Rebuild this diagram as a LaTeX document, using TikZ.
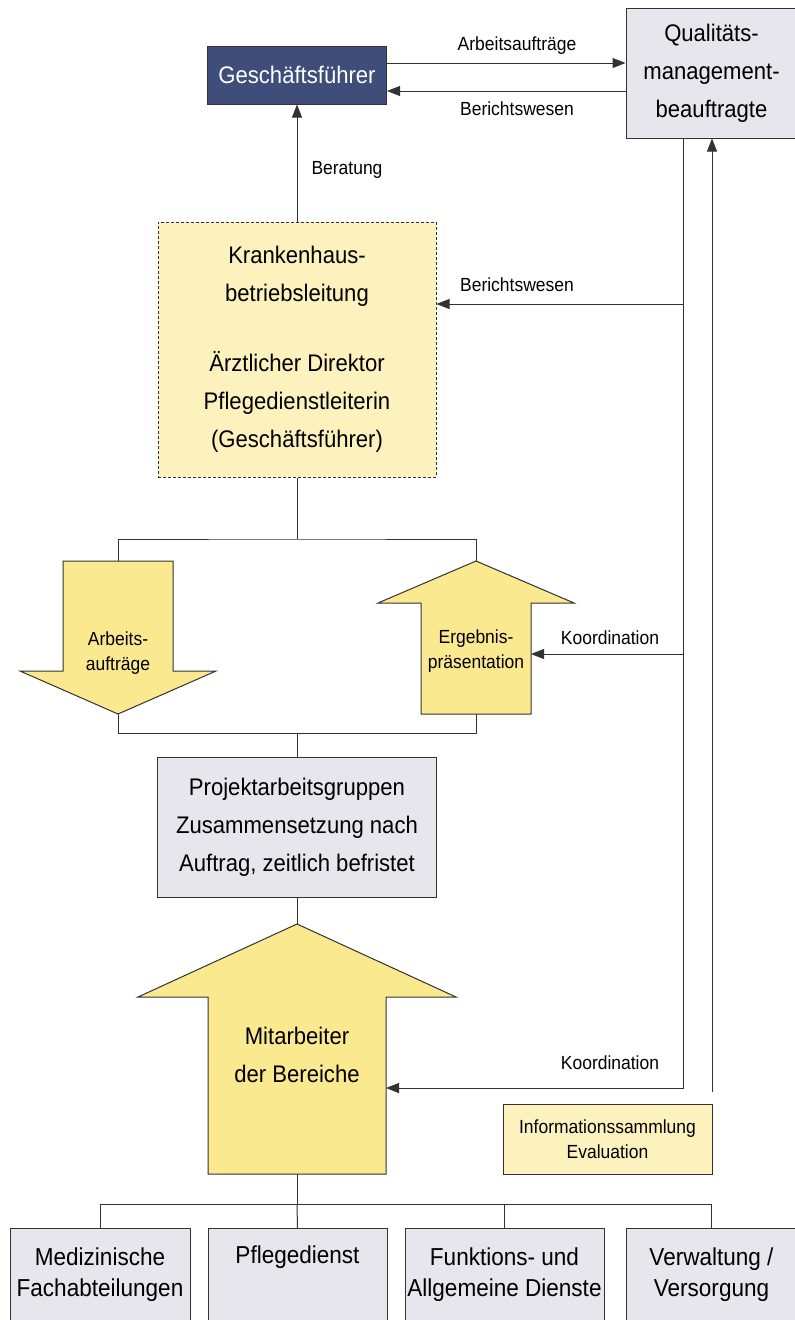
\documentclass[tikz,border=0pt]{standalone}
\usepackage{fontspec}
\setmainfont{Liberation Sans}[FakeStretch=0.92]
\usetikzlibrary{arrows.meta}
\definecolor{navy}{RGB}{62,77,122}
\definecolor{yellowf}{RGB}{251,233,143}
\definecolor{paley}{RGB}{253,242,190}
\definecolor{grayf}{RGB}{230,230,236}
\definecolor{linec}{RGB}{50,50,50}
\newcommand\bigtxt{\fontsize{24}{38}\selectfont}
\newcommand\bottxt{\fontsize{24.5}{31}\selectfont}
\newcommand\smalltxt{\fontsize{19}{25}\selectfont}
\begin{document}
\begin{tikzpicture}[x=1pt,y=-1pt,
  line/.style={draw=linec, line width=1pt},
  arr/.style={line, -{Triangle[length=13pt,width=10pt]}},
  box/.style={draw=linec, line width=1pt, inner sep=0pt, align=center, font=\bigtxt},
  graybox/.style={box, fill=grayf},
  lbl/.style={font=\smalltxt, text=black, inner sep=1pt, align=center},
  btxt/.style={font=\bottxt, inner sep=0pt, align=center, anchor=north},
  bigarrow/.style={draw=linec, line width=1pt, fill=yellowf},
]
\useasboundingbox (0,0) rectangle (795,1320);

% main boxes
\node[box, fill=navy, text=white, minimum width=179, minimum height=58] (gf) at (297,75) {Geschäftsführer};
\node[graybox, minimum width=171, minimum height=130] (qm) at (711.5,73) {Qualitäts-\\management-\\beauftragte};
\node[box, fill=paley, dash pattern=on 3pt off 2pt, minimum width=278, minimum height=255] (kbl) at (297,349.5)
  {Krankenhaus-\\betriebsleitung\\[32pt]Ärztlicher Direktor\\Pflegedienstleiterin\\(Geschäftsführer)};
\node[graybox, minimum width=279, minimum height=140] (pag) at (297,827)
  {Projektarbeitsgruppen\\Zusammensetzung nach\\Auftrag, zeitlich befristet};
\node[box, fill=paley, font=\smalltxt, minimum width=209, minimum height=70] (info) at (607.5,1139)
  {Informationssammlung\\Evaluation};

% block arrows
\draw[bigarrow] (63,561) -- (173,561) -- (173,671) -- (216,671) -- (118,714) -- (20,671) -- (63,671) -- cycle;
\coordinate (aaTop) at (118,561);
\coordinate (aaTip) at (118,714);
\node[lbl] (aa) at (118,653) {Arbeits-\\aufträge};

\draw[bigarrow] (476,561) -- (574,603) -- (531,603) -- (531,714) -- (421,714) -- (421,603) -- (378,603) -- cycle;
\coordinate (epTip) at (476,561);
\coordinate (epBot) at (476,714);
\coordinate (epEdge) at (531,654);
\node[lbl] (ep) at (476,651) {Ergebnis-\\präsentation};

\draw[bigarrow] (297,924) -- (456,997) -- (386,997) -- (386,1174) -- (208,1174) -- (208,997) -- (138,997) -- cycle;
\coordinate (maTip) at (297,924);
\coordinate (maBot) at (297,1174);
\coordinate (maEdge) at (386,1088);
\node[font=\bigtxt, align=center, inner sep=0pt] (ma) at (297,1055) {Mitarbeiter\\der Bereiche};

% bottom boxes
\node[graybox, anchor=north, minimum width=180, minimum height=110] (b1) at (100,1228) {};
\node[graybox, anchor=north, minimum width=179, minimum height=110] (b2) at (297.5,1228) {};
\node[graybox, anchor=north, minimum width=199, minimum height=110] (b3) at (504.5,1228) {};
\node[graybox, anchor=north, minimum width=171, minimum height=110] (b4) at (711.5,1228) {};
\node[btxt] (t1) at ([yshift=-20pt]b1.north) {Medizinische\\Fachabteilungen};
\node[btxt] (t2) at ([yshift=-18pt]b2.north) {Pflegedienst};
\node[btxt] (t3) at ([yshift=-20pt]b3.north) {Funktions- und\\Allgemeine Dienste};
\node[btxt] (t4) at ([yshift=-20pt]b4.north) {Verwaltung /\\Versorgung};

% connectors top
\draw[arr] ([yshift=12pt]gf.east) -- ([yshift=12pt]gf.east -| qm.west);
\draw[arr] ([yshift=-16pt]gf.east -| qm.west) -- ([yshift=-16pt]gf.east);
\node[lbl] (l1) at (517,46) {Arbeitsaufträge};
\node[lbl] (l2) at (517,109) {Berichtswesen};
\draw[arr] (kbl.north) -- (gf.south);
\node[lbl] (l3) at (347,170) {Beratung};

\coordinate (qmA) at ([xshift=-28.5pt]qm.south);
\coordinate (qmB) at ([xshift=0.5pt]qm.south);
\coordinate (kblIn) at ([yshift=45.5pt]kbl.east);
\coordinate (infoUp) at (712,1092);
\draw[arr] (qmA) |- (maEdge);
\draw[arr] (qmA |- kblIn) -- (kblIn);
\draw[arr] (qmA |- epEdge) -- (epEdge);
\draw[arr] (infoUp) -- (qmB);
\node[lbl] (l4) at (517,285) {Berichtswesen};
\node[lbl] (l5) at (610,638) {Koordination};
\node[lbl] (l6) at (610,1063) {Koordination};

% brackets
\coordinate (j1) at (297,539);
\coordinate (j2) at (297,733);
\coordinate (j3) at (297,1204);
\draw[line] (kbl.south) -- (j1);
\draw[line] (aaTop) |- (j1) -| (epTip);
\draw[line] (aaTip) |- (j2) -| (epBot);
\draw[line] (j2) -- (pag.north);
\draw[line] (pag.south) -- (maTip);
\draw[line] (maBot) -- (j3);
\draw[line] (b1.north) |- (j3) -| (b4.north);
\draw[line] (j3) -- (b2.north);
\draw[line] (b3.north) -- (b3.north |- j3);
\end{tikzpicture}
\end{document}
